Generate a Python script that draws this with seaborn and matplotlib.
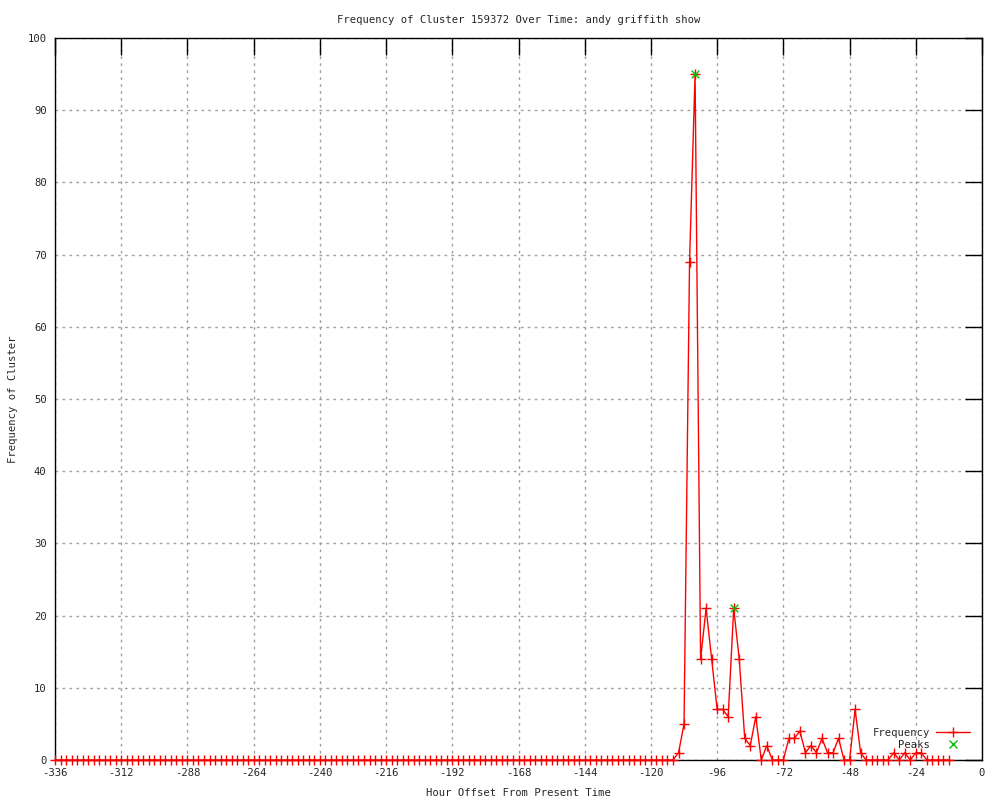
import numpy as np
import pandas as pd
import matplotlib
matplotlib.use("Agg")
import matplotlib.pyplot as plt
import seaborn as sns
from matplotlib.lines import Line2D

# ---- data ----
hours = list(range(-336, -10, 2))
freq = [
    0, 0, 0, 0, 0, 0, 0, 0, 0, 0,
    0, 0, 0, 0, 0, 0, 0, 0, 0, 0,
    0, 0, 0, 0, 0, 0, 0, 0, 0, 0,
    0, 0, 0, 0, 0, 0, 0, 0, 0, 0,
    0, 0, 0, 0, 0, 0, 0, 0, 0, 0,
    0, 0, 0, 0, 0, 0, 0, 0, 0, 0,
    0, 0, 0, 0, 0, 0, 0, 0, 0, 0,
    0, 0, 0, 0, 0, 0, 0, 0, 0, 0,
    0, 0, 0, 0, 0, 0, 0, 0, 0, 0,
    0, 0, 0, 0, 0, 0, 0, 0, 0, 0,
    0, 0, 0, 0, 0, 0, 0, 0, 0, 0,
    # -116 .. -12
    0, 0, 0, 1, 5, 69, 95, 14, 21, 14,
    7, 7, 6, 21, 14, 3, 2, 6, 0, 2,
    0, 0, 0, 3, 3, 4, 1, 2, 1, 3,
    1, 1, 3, 0, 0, 7, 1, 0, 0, 0,
    0, 0, 1, 0, 1, 0, 1, 1, 0, 0,
    0, 0, 0,
]
peak_hours = [-104, -90]
peak_values = [95, 21]

x_ticks = list(range(-336, 1, 24))
y_ticks = list(range(0, 101, 10))

title = "Frequency of Cluster 159372 Over Time: andy griffith show"
xlabel = "Hour Offset From Present Time"
ylabel = "Frequency of Cluster"

df = pd.DataFrame({"hour": hours, "freq": freq})
pk = pd.DataFrame({"hour": peak_hours, "freq": peak_values})

sns.set_style("white")
plt.rcParams["font.family"] = ["DejaVu Sans Mono", "DejaVu Sans"]
plt.rcParams["font.size"] = 7.6
plt.rcParams["axes.unicode_minus"] = False

fig = plt.figure(figsize=(10, 8), dpi=100)
ax = fig.add_axes([0.055, 0.05, 0.927, 0.9025])

RED = "#ff0000"
GREEN = "#00c000"

sns.lineplot(data=df, x="hour", y="freq", ax=ax, color=RED, linewidth=1.0,
             marker="+", markersize=7, markeredgewidth=1.0, markeredgecolor=RED,
             clip_on=False, legend=False, zorder=3)
sns.scatterplot(data=pk, x="hour", y="freq", ax=ax, color=GREEN, marker="x",
                s=30, linewidth=1.0, clip_on=False, legend=False, zorder=4)

ax.set_xlim(-336, 0)
ax.set_ylim(0, 100)
ax.set_xticks(x_ticks)
ax.set_yticks(y_ticks)
ax.grid(True, color="#a0a0a0", linestyle=(0, (2, 3)), linewidth=1.0)
ax.set_axisbelow(True)
for s in ax.spines.values():
    s.set_color("black")
    s.set_linewidth(1.0)
ax.tick_params(direction="in", length=12, width=1.0, color="black",
               top=True, right=True, labelsize=7.6, pad=6)

ax.set_title(title, fontsize=7.6, pad=11)
ax.set_xlabel(xlabel, fontsize=7.6, labelpad=7)
ax.set_ylabel(ylabel, fontsize=7.6, labelpad=7)

handles = [
    Line2D([0], [0], color=RED, linewidth=1.0, marker="+", markersize=7,
           markeredgewidth=1.0),
    Line2D([0], [0], color=GREEN, linestyle="none", marker="x", markersize=6,
           markeredgewidth=1.0),
]
leg = ax.legend(handles, ["Frequency", "Peaks"], loc="lower right",
                bbox_to_anchor=(0.995, 0.004), markerfirst=False, frameon=False,
                fontsize=7.6, handlelength=3.2, handletextpad=0.6,
                labelspacing=0.15, borderaxespad=0.3)

fig.savefig("out.png", dpi=100)
